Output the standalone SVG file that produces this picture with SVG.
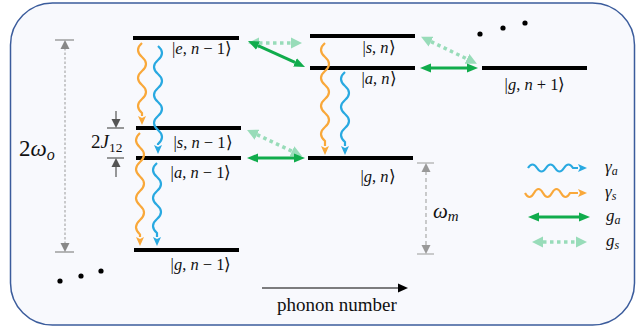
<svg xmlns="http://www.w3.org/2000/svg" width="639" height="328" viewBox="0 0 639 328">
<defs>
  <marker id="mo" viewBox="0 -5 9 10" refX="0" refY="0" markerWidth="9" markerHeight="10" orient="auto" markerUnits="userSpaceOnUse">
    <path d="M0,-4 L9,0 L0,4 L2,0 z" fill="#f9a83a"/>
  </marker>
  <marker id="mb" viewBox="0 -5 9 10" refX="0" refY="0" markerWidth="9" markerHeight="10" orient="auto" markerUnits="userSpaceOnUse">
    <path d="M0,-4 L9,0 L0,4 L2,0 z" fill="#29a9e1"/>
  </marker>
  <marker id="mg" viewBox="0 -5 12 10" refX="0" refY="0" markerWidth="12" markerHeight="10" orient="auto-start-reverse" markerUnits="userSpaceOnUse">
    <path d="M0,-4.5 L11,0 L0,4.5 z" fill="#10ac4c"/>
  </marker>
  <marker id="ms" viewBox="0 -6 12 12" refX="0" refY="0" markerWidth="12" markerHeight="12" orient="auto-start-reverse" markerUnits="userSpaceOnUse">
    <path d="M0,-5.5 L11,0 L0,5.5 z" fill="#98dcb9"/>
  </marker>
  <marker id="mk" viewBox="0 -5 10 10" refX="0" refY="0" markerWidth="10" markerHeight="10" orient="auto" markerUnits="userSpaceOnUse">
    <path d="M0,-4.5 L10,0 L0,4.5 z" fill="#000"/>
  </marker>
</defs>

<rect x="10.5" y="3" width="624" height="322" rx="42" fill="#f8f9fd" stroke="#3b5c9c" stroke-width="1.5"/>

<g id="level-e-n-1">
  <line stroke="#000" stroke-width="4" x1="133" y1="38" x2="239" y2="38"/>
  <text font-family="Liberation Serif" font-size="16.5" text-anchor="middle" fill="#111" x="202" y="54">|<tspan font-style="italic">e</tspan>, <tspan font-style="italic">n</tspan> − 1⟩</text>
</g>
<g id="level-s-n-1">
  <line stroke="#000" stroke-width="4" x1="136" y1="128" x2="241" y2="128"/>
  <text font-family="Liberation Serif" font-size="16.5" text-anchor="middle" fill="#111" x="203" y="148">|<tspan font-style="italic">s</tspan>, <tspan font-style="italic">n</tspan> − 1⟩</text>
</g>
<g id="level-a-n-1">
  <line stroke="#000" stroke-width="4" x1="136" y1="158" x2="241" y2="158"/>
  <text font-family="Liberation Serif" font-size="16.5" text-anchor="middle" fill="#111" x="201" y="178">|<tspan font-style="italic">a</tspan>, <tspan font-style="italic">n</tspan> − 1⟩</text>
</g>
<g id="level-g-n-1">
  <line stroke="#000" stroke-width="4" x1="134" y1="250" x2="239" y2="250"/>
  <text font-family="Liberation Serif" font-size="16.5" text-anchor="middle" fill="#111" x="201" y="270">|<tspan font-style="italic">g</tspan>, <tspan font-style="italic">n</tspan> − 1⟩</text>
</g>
<g id="level-s-n">
  <line stroke="#000" stroke-width="4" x1="310" y1="36" x2="415" y2="36"/>
  <text font-family="Liberation Serif" font-size="16.5" text-anchor="middle" fill="#111" x="379" y="53">|<tspan font-style="italic">s</tspan>, <tspan font-style="italic">n</tspan>⟩</text>
</g>
<g id="level-a-n">
  <line stroke="#000" stroke-width="4" x1="310" y1="68" x2="415" y2="68"/>
  <text font-family="Liberation Serif" font-size="16.5" text-anchor="middle" fill="#111" x="379" y="84">|<tspan font-style="italic">a</tspan>, <tspan font-style="italic">n</tspan>⟩</text>
</g>
<g id="level-g-n">
  <line stroke="#000" stroke-width="4" x1="308" y1="158" x2="413" y2="158"/>
  <text font-family="Liberation Serif" font-size="16.5" text-anchor="middle" fill="#111" x="378" y="182">|<tspan font-style="italic">g</tspan>, <tspan font-style="italic">n</tspan>⟩</text>
</g>
<g id="level-g-n+1">
  <line stroke="#000" stroke-width="4" x1="482" y1="68" x2="587" y2="68"/>
  <text font-family="Liberation Serif" font-size="16.5" text-anchor="middle" fill="#111" x="535" y="90">|<tspan font-style="italic">g</tspan>, <tspan font-style="italic">n</tspan> + 1⟩</text>
</g>

<g id="connectors" fill="none">
  <g stroke="#f9a83a" stroke-width="2.2" marker-end="url(#mo)">
    <path d="M142,43 q-8,7 0,14 t0,14 t0,14 t0,14 t0,14 l0,3"/>
    <path d="M140,133 q-8,7.25 0,14.5 t0,14.5 t0,14.5 t0,14.5 t0,14.5 t0,14.5 t0,14.5 l0,2.5"/>
    <path d="M325,43 q-8,7 0,14 t0,14 t0,14 t0,14 t0,14 t0,14 t0,14 l0,5"/>
  </g>
  <g stroke="#29a9e1" stroke-width="2.2" marker-end="url(#mb)">
    <path d="M158,46 q8,7 0,14 t0,14 t0,14 t0,14 t0,14 t0,14 t0,14 l0,1"/>
    <path d="M157,163 q-8,7 0,14 t0,14 t0,14 t0,14 t0,14 l0,4"/>
    <path d="M345,72 q-8,7 0,14 t0,14 t0,14 t0,14 t0,14 l0,4"/>
  </g>
  <g stroke="#98dcb9" stroke-width="3.5" stroke-dasharray="3.5 3.5" marker-start="url(#ms)" marker-end="url(#ms)">
    <line x1="259" y1="43" x2="291" y2="43"/>
    <line x1="257" y1="134.7" x2="292" y2="151.3"/>
    <line x1="431" y1="41.6" x2="467" y2="58.9"/>
  </g>
  <g stroke="#10ac4c" stroke-width="3" marker-start="url(#mg)" marker-end="url(#mg)">
    <line x1="258" y1="45.6" x2="295" y2="62.4"/>
    <line x1="258" y1="158" x2="294" y2="158"/>
    <line x1="431" y1="68" x2="467" y2="68"/>
  </g>
</g>

<g id="dim-2wo">
  <line stroke="#888" stroke-width="1.2" x1="55" y1="40" x2="74" y2="40"/>
  <line stroke="#888" stroke-width="1.2" x1="55" y1="252" x2="74" y2="252"/>
  <line stroke="#999" stroke-width="1" stroke-dasharray="2.5 2" x1="65" y1="48" x2="65" y2="244"/>
  <path d="M65,40 L69.5,49 L60.5,49 z" fill="#888"/>
  <path d="M65,252 L69.5,243 L60.5,243 z" fill="#888"/>
  <text font-family="Liberation Serif" fill="#111" x="19" y="156" font-size="23">2<tspan font-style="italic">ω</tspan><tspan font-style="italic" font-size="16" dy="4">o</tspan></text>
</g>

<g id="dim-2J12">
  <line x1="107" y1="128" x2="124" y2="128" stroke="#555" stroke-width="1.2"/>
  <line x1="107" y1="158" x2="124" y2="158" stroke="#555" stroke-width="1.2"/>
  <line x1="116" y1="111" x2="116" y2="120" stroke="#555" stroke-width="1.2"/>
  <path d="M116,128 L120.5,119 L111.5,119 z" fill="#555"/>
  <line x1="116" y1="166" x2="116" y2="177" stroke="#555" stroke-width="1.2"/>
  <path d="M116,158 L120.5,167 L111.5,167 z" fill="#555"/>
  <text font-family="Liberation Serif" fill="#111" x="91" y="148" font-size="19">2<tspan font-style="italic">J</tspan><tspan font-size="13.5" dy="4">12</tspan></text>
</g>

<g id="dim-wm">
  <line x1="417" y1="163" x2="434" y2="163" stroke="#aaa" stroke-width="1.2"/>
  <line x1="417" y1="254" x2="434" y2="254" stroke="#aaa" stroke-width="1.2"/>
  <line x1="426" y1="171" x2="426" y2="246" stroke="#aaa" stroke-width="1.2" stroke-dasharray="4 3"/>
  <path d="M426,163 L430.5,172 L421.5,172 z" fill="#999"/>
  <path d="M426,254 L430.5,245 L421.5,245 z" fill="#999"/>
  <text font-family="Liberation Serif" fill="#111" x="433" y="218" font-size="21" font-style="italic">ω<tspan font-size="15" dy="3">m</tspan></text>
</g>

<g id="dots" fill="#000">
  <circle cx="480" cy="34" r="2.6"/>
  <circle cx="503" cy="28" r="2.6"/>
  <circle cx="525" cy="23" r="2.6"/>
  <circle cx="60" cy="281" r="2.6"/>
  <circle cx="81" cy="276" r="2.6"/>
  <circle cx="101" cy="271" r="2.6"/>
</g>

<g id="phonon-axis">
  <line x1="262" y1="288" x2="398" y2="288" stroke="#000" stroke-width="1.2" marker-end="url(#mk)"/>
  <text font-family="Liberation Serif" fill="#111" x="337" y="311" font-size="19" text-anchor="middle">phonon number</text>
</g>

<g id="legend">
  <path fill="none" stroke="#29a9e1" stroke-width="2.2" marker-end="url(#mb)" d="M528,168 q4.5,-7 9,0 t9,0 t9,0 t9,0 t9,0 l5,0"/>
  <text font-family="Liberation Serif" fill="#111" x="605" y="172" font-size="17" font-style="italic">γ<tspan font-size="12" dy="3">a</tspan></text>
  <path fill="none" stroke="#f9a83a" stroke-width="2.2" marker-end="url(#mo)" d="M525,193 q4.5,8 9,0 t9,0 t9,0 t9,0 t9,0 l8,0"/>
  <text font-family="Liberation Serif" fill="#111" x="605" y="197" font-size="17" font-style="italic">γ<tspan font-size="12" dy="3">s</tspan></text>
  <line stroke="#10ac4c" stroke-width="3" x1="539" y1="217" x2="579" y2="217" marker-start="url(#mg)" marker-end="url(#mg)"/>
  <text font-family="Liberation Serif" fill="#111" x="606" y="221" font-size="17" font-style="italic">g<tspan font-size="12" dy="3">a</tspan></text>
  <line stroke="#98dcb9" stroke-width="3.5" stroke-dasharray="3.5 3.5" x1="543" y1="242" x2="576" y2="242" marker-start="url(#ms)" marker-end="url(#ms)"/>
  <text font-family="Liberation Serif" fill="#111" x="606" y="246" font-size="17" font-style="italic">g<tspan font-size="12" dy="3">s</tspan></text>
</g>
</svg>
